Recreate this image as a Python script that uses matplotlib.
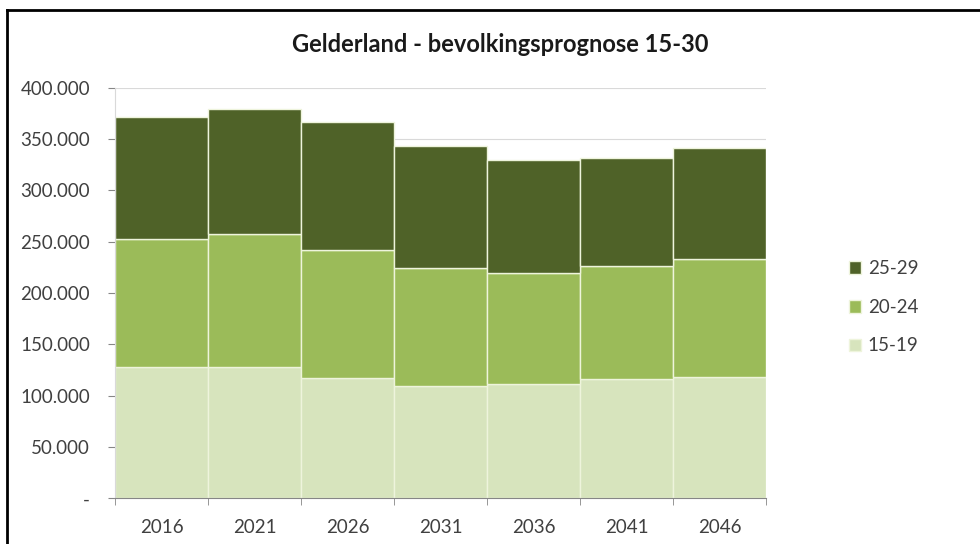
import matplotlib
matplotlib.use("Agg")
import matplotlib.pyplot as plt
import numpy as np
from matplotlib.lines import Line2D

years = ["2016", "2021", "2026", "2031", "2036", "2041", "2046"]
age_15_19 = [128000, 127500, 117000, 109000, 111000, 116000, 118000]
age_20_24 = [125000, 129500, 125000, 115000, 108000, 110500, 115000]
age_25_29 = [118500, 122500, 124000, 119500, 110500, 104500, 108000]
series_labels = ["15-19", "20-24", "25-29"]
colors = ["#D7E4BD", "#9BBB59", "#4F6228"]
yticks = [0, 50000, 100000, 150000, 200000, 250000, 300000, 350000, 400000]
ytick_labels = ["-", "50.000", "100.000", "150.000", "200.000", "250.000",
                "300.000", "350.000", "400.000"]

plt.rcParams['font.family'] = ['Lato', 'DejaVu Sans']

fig = plt.figure(figsize=(9.8, 5.44), dpi=100)
ax = fig.add_axes([0.1173, 0.084, 0.6643, 0.755])

x = np.arange(len(years))
bottom = np.zeros(len(years))
for vals, col, lab in zip([age_15_19, age_20_24, age_25_29], colors, series_labels):
    ax.bar(x, vals, width=1.0, bottom=bottom, color=col, edgecolor="#EEF4DC",
           linewidth=1.0, label=lab, zorder=2)
    bottom += np.array(vals)

ax.set_xlim(-0.5, len(years) - 0.5)
ax.set_ylim(0, 400000)
ax.set_yticks(yticks)
ax.set_yticklabels(ytick_labels)
ax.grid(axis="y", color="#D9D9D9", linewidth=0.8, zorder=0)
ax.set_axisbelow(True)

ax.set_xticks(x)
ax.set_xticklabels(years)
ax.set_xticks(np.arange(-0.5, len(years)), minor=True)
ax.tick_params(axis="x", which="major", length=0, pad=15, labelsize=13.5, labelcolor="#404040")
ax.tick_params(axis="x", which="minor", length=5, color="#868686", direction="out")
ax.tick_params(axis="y", length=5, color="#868686", labelsize=13.5, labelcolor="#404040", pad=13)

for s in ["top", "right"]:
    ax.spines[s].set_visible(False)
ax.spines["bottom"].set_color("#868686")
ax.spines["left"].set_color("#D9D9D9")
ax.spines["left"].set_linewidth(0.8)

fig.text(0.51, 0.918, "Gelderland - bevolkingsprognose 15-30", ha="center", va="center",
         fontsize=17, fontweight="bold", color="#1a1a1a")

handles, labels = ax.get_legend_handles_labels()
leg = fig.legend(handles[::-1], labels[::-1], loc="center left",
                 bbox_to_anchor=(0.849, 0.435), frameon=False, fontsize=13.5,
                 handlelength=0.65, handleheight=0.65, handletextpad=0.35,
                 labelspacing=1.15, labelcolor="#404040")

# chart border (top and left visible)
fig.add_artist(Line2D([0.007, 1.0], [0.982, 0.982], transform=fig.transFigure,
                      color="black", linewidth=2))
fig.add_artist(Line2D([0.007, 0.007], [0.0, 0.982], transform=fig.transFigure,
                      color="black", linewidth=2))

fig.savefig("out.png", dpi=100)
